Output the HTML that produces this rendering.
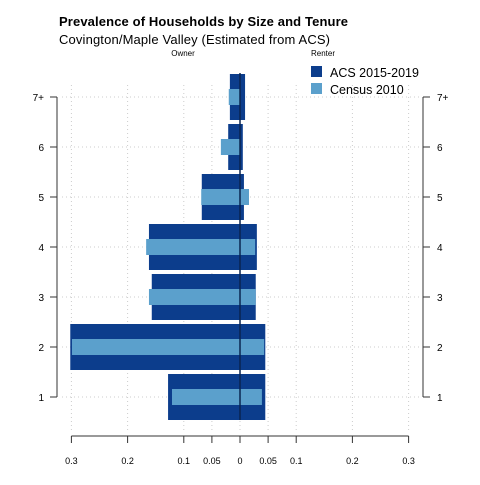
<!DOCTYPE html>
<html><head><meta charset="utf-8"><style>
body{margin:0;background:#fff;font-family:"Liberation Sans",sans-serif}
</style></head><body>
<svg width="480" height="480" viewBox="0 0 480 480" xmlns="http://www.w3.org/2000/svg" font-family="Liberation Sans, sans-serif">
<g id="grid"></g>
<g id="bars"></g>
<g id="axes"></g>
<text x="59" y="26" font-size="13" font-weight="bold" textLength="289">Prevalence of Households by Size and Tenure</text>
<text x="59" y="44" font-size="13" textLength="271">Covington/Maple Valley (Estimated from ACS)</text>
<text x="183" y="56" font-size="8" text-anchor="middle">Owner</text>
<text x="323" y="56" font-size="8" text-anchor="middle">Renter</text>
<g>
<rect x="311" y="66" width="11" height="11" fill="#0c3d8c"/>
<text x="330" y="77" font-size="12.5">ACS 2015-2019</text>
<rect x="311" y="83" width="11" height="11" fill="#5ba0cc"/>
<text x="330" y="94" font-size="12.5">Census 2010</text>
</g>
</svg>
<script>
const categories=["1","2","3","4","5","6","7+"];
const acsOwner=[0.128,0.302,0.157,0.162,0.068,0.021,0.018];
const acsRenter=[0.045,0.045,0.028,0.030,0.007,0.005,0.009];
const censusOwner=[0.121,0.299,0.162,0.167,0.069,0.034,0.020];
const censusRenter=[0.039,0.043,0.028,0.027,0.016,0.0,0.0];
const xTicks=[-0.3,-0.2,-0.1,-0.05,0,0.05,0.1,0.2,0.3];
const xTickLabels=["0.3","0.2","0.1","0.05","0","0.05","0.1","0.2","0.3"];
const NS="http://www.w3.org/2000/svg";
const x=v=>240+v*562;
const y=i=>397-i*50;
function mk(parent,tag,attrs){const e=document.createElementNS(NS,tag);for(const k in attrs)e.setAttribute(k,attrs[k]);document.getElementById(parent).appendChild(e);return e;}
xTicks.forEach((t,i)=>{
 let g=mk("grid","line",{x1:x(t),x2:x(t),y1:85,y2:430,stroke:"#ccc","stroke-dasharray":"1,3"});
 
 
 let tk=mk("axes","line",{x1:x(t),x2:x(t),y1:436,y2:443,stroke:"#333"});
 
 
 let tl=mk("axes","text",{x:x(t),y:464,"font-size":"9","text-anchor":"middle"});
 tl.textContent=xTickLabels[i];
 
 
});
categories.forEach((c,i)=>{
 let g=mk("grid","line",{x1:62,x2:420,y1:y(i),y2:y(i),stroke:"#ccc","stroke-dasharray":"1,3"});
 
 
 let a=mk("bars","rect",{x:x(-acsOwner[i]),y:y(i)-23,width:(acsOwner[i]+acsRenter[i])*562,height:46,fill:"#0c3d8c"});
 
 
 let b=mk("bars","rect",{x:x(-censusOwner[i]),y:y(i)-8,width:(censusOwner[i]+censusRenter[i])*562,height:16,fill:"#5ba0cc"});
 
 
 [[57,50,"end",53],[423,430,"start",437]].forEach(([ax,tx,anc,lx])=>{
  let tk=mk("axes","line",{x1:ax,x2:tx,y1:y(i),y2:y(i),stroke:"#333"});
  
  
  let tl=mk("axes","text",{x:anc==="end"?44:437,y:y(i)+4,"font-size":"10","text-anchor":anc});
  tl.textContent=c;
  
  
 });
});
let cl=mk("bars","line",{x1:240,x2:240,y1:73,y2:420,stroke:"#0a2550","stroke-width":"1.5"});


[[57,97,57,397],[423,97,423,397],[x(-0.3),436,x(0.3),436]].forEach(([a,b,c2,d])=>{
 let l=mk("axes","line",{x1:a,y1:b,x2:c2,y2:d,stroke:"#333"});
 
 
});
</script>
</body></html>
